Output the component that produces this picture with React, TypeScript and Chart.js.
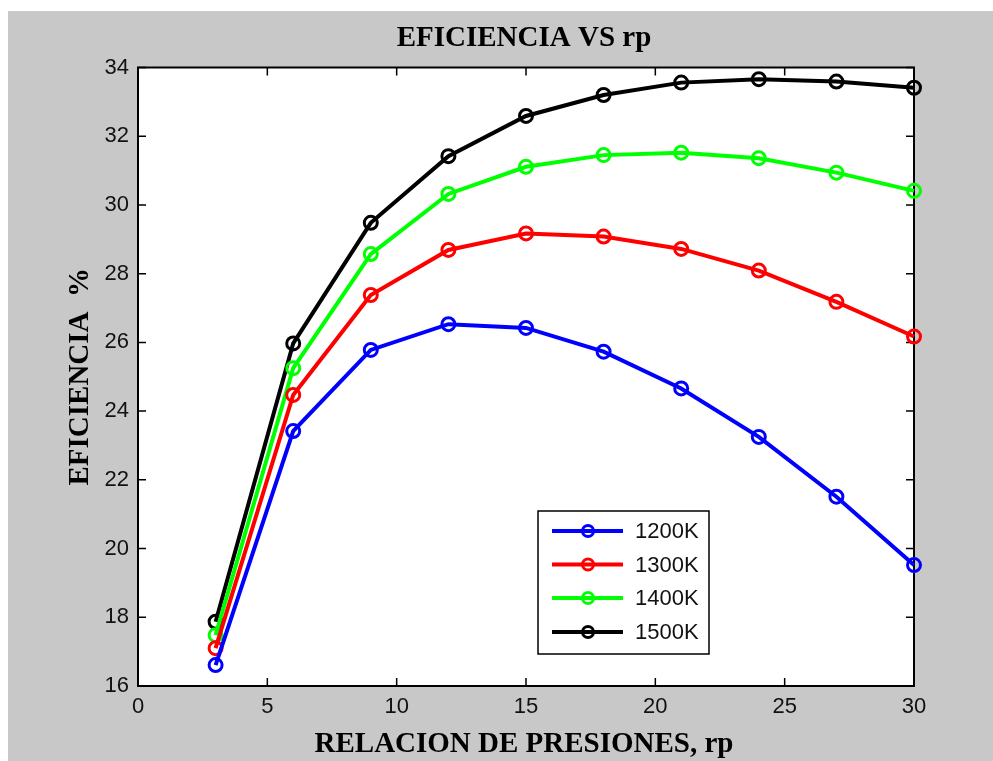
import React, { useEffect, useRef } from "react";
import { Chart, registerables } from "chart.js";

Chart.register(...registerables);

const rp = [3, 6, 9, 12, 15, 18, 21, 24, 27, 30];
const eff1200 = [16.61, 23.42, 25.78, 26.53, 26.42, 25.73, 24.66, 23.25, 21.51, 19.52];
const eff1300 = [17.1, 24.47, 27.38, 28.69, 29.17, 29.08, 28.72, 28.09, 27.18, 26.17];
const eff1400 = [17.48, 25.25, 28.57, 30.32, 31.11, 31.45, 31.52, 31.36, 30.94, 30.41];
const eff1500 = [17.87, 25.97, 29.48, 31.42, 32.59, 33.2, 33.56, 33.66, 33.59, 33.41];
const seriesLabels = ["1200K", "1300K", "1400K", "1500K"];
const seriesColors = ["#0000ff", "#ff0000", "#00ff00", "#000000"];
const xTicks = [0, 5, 10, 15, 20, 25, 30];
const yTicks = [16, 18, 20, 22, 24, 26, 28, 30, 32, 34];
const chartTitle = "EFICIENCIA VS rp";
const xTitle = "RELACION DE PRESIONES, rp";
const yTitle = "EFICIENCIA  %";

const W = 993;
const H = 761;
const TICK_FONT = "22px 'Liberation Sans', Arial, sans-serif";
const TITLE_FONT = "bold 29px 'Liberation Serif', 'Times New Roman', serif";

const framePlugin = {
  id: "matlabFrame",
  beforeDraw(chart: any) {
    const { ctx, chartArea } = chart;
    ctx.save();
    ctx.fillStyle = "#ffffff";
    ctx.fillRect(0, 0, W, H);
    ctx.fillStyle = "#c8c8c8";
    ctx.fillRect(8, 11, W - 8, H - 11);
    ctx.fillStyle = "#ffffff";
    ctx.fillRect(chartArea.left, chartArea.top, chartArea.right - chartArea.left, chartArea.bottom - chartArea.top);
    ctx.restore();
  },
  beforeDatasetsDraw(chart: any) {
    const { ctx, chartArea, scales } = chart;
    const { left, right, top, bottom } = chartArea;
    ctx.save();
    ctx.strokeStyle = "#000000";
    ctx.lineWidth = 1.5;
    const tl = 8;
    ctx.beginPath();
    xTicks.forEach((t) => {
      const px = scales.x.getPixelForValue(t);
      ctx.moveTo(px, bottom);
      ctx.lineTo(px, bottom - tl);
      ctx.moveTo(px, top);
      ctx.lineTo(px, top + tl);
    });
    yTicks.forEach((t) => {
      const py = scales.y.getPixelForValue(t);
      ctx.moveTo(left, py);
      ctx.lineTo(left + tl, py);
      ctx.moveTo(right, py);
      ctx.lineTo(right - tl, py);
    });
    ctx.stroke();
    ctx.lineWidth = 2;
    ctx.strokeRect(left, top, right - left, bottom - top);
    ctx.restore();
  },
  afterDraw(chart: any) {
    const { ctx, chartArea } = chart;
    const cx = (chartArea.left + chartArea.right) / 2;
    const cy = (chartArea.top + chartArea.bottom) / 2;
    ctx.save();
    ctx.fillStyle = "#000000";
    ctx.font = TITLE_FONT;
    ctx.textAlign = "center";
    ctx.textBaseline = "alphabetic";
    ctx.fillText(chartTitle, cx - 2, 46);
    ctx.fillText(xTitle, cx - 2, 752);
    ctx.save();
    ctx.translate(88, cy);
    ctx.rotate(-Math.PI / 2);
    ctx.fillText(yTitle, 0, 0);
    ctx.restore();

    // legend
    const bx = 538, by = 511, bw = 171, bh = 143;
    ctx.fillStyle = "#ffffff";
    ctx.fillRect(bx, by, bw, bh);
    ctx.strokeStyle = "#000000";
    ctx.lineWidth = 1.5;
    ctx.strokeRect(bx, by, bw, bh);
    const rowsY = [531, 564.5, 598, 632];
    chart.data.datasets.forEach((ds: any, i: number) => {
      const y = rowsY[i];
      ctx.strokeStyle = ds.borderColor;
      ctx.lineWidth = 4;
      ctx.beginPath();
      ctx.moveTo(552, y);
      ctx.lineTo(623, y);
      ctx.stroke();
      ctx.lineWidth = 3;
      ctx.beginPath();
      ctx.arc(588, y, 5.5, 0, Math.PI * 2);
      ctx.stroke();
      ctx.fillStyle = "#111111";
      ctx.font = TICK_FONT;
      ctx.textAlign = "left";
      ctx.textBaseline = "middle";
      ctx.fillText(ds.label, 635, y + 1);
    });
    ctx.restore();
  },
};

export default function App() {
  const canvasRef = useRef<HTMLCanvasElement | null>(null);

  useEffect(() => {
    if (!canvasRef.current) return;
    const allSeries = [eff1200, eff1300, eff1400, eff1500];
    const chart = new Chart(canvasRef.current, {
      type: "line",
      data: {
        datasets: allSeries.map((vals, i) => ({
          label: seriesLabels[i],
          data: rp.map((x, j) => ({ x, y: vals[j] })),
          borderColor: seriesColors[i],
          backgroundColor: "transparent",
          borderWidth: 4,
          pointRadius: 6.5,
          pointBorderWidth: 3,
          pointBorderColor: seriesColors[i],
          pointBackgroundColor: "rgba(0,0,0,0)",
          tension: 0,
          clip: false as any,
        })),
      },
      options: {
        responsive: false,
        animation: false,
        events: [],
        layout: { padding: { top: 67.5, right: 79, left: 0, bottom: 0 } },
        plugins: {
          legend: { display: false },
          title: { display: false },
          tooltip: { enabled: false },
        },
        scales: {
          x: {
            type: "linear",
            min: 0,
            max: 30,
            afterFit: (s: any) => {
              s.height = H - 686;
            },
            afterBuildTicks: (s: any) => {
              s.ticks = xTicks.map((v) => ({ value: v }));
            },
            grid: { display: false, drawTicks: false },
            border: { display: false },
            ticks: {
              padding: 8,
              color: "#111111",
              font: { family: "'Liberation Sans', Arial, sans-serif", size: 22 },
              maxRotation: 0,
            },
          },
          y: {
            type: "linear",
            min: 16,
            max: 34,
            afterFit: (s: any) => {
              s.width = 138;
            },
            afterBuildTicks: (s: any) => {
              s.ticks = yTicks.map((v) => ({ value: v }));
            },
            grid: { display: false, drawTicks: false },
            border: { display: false },
            ticks: {
              padding: 9,
              color: "#111111",
              font: { family: "'Liberation Sans', Arial, sans-serif", size: 22 },
            },
          },
        },
      },
      plugins: [framePlugin],
    });
    return () => chart.destroy();
  }, []);

  return (
    <div style={{ position: "absolute", left: 0, top: 0, width: W, height: H }}>
      <canvas ref={canvasRef} width={W} height={H} style={{ width: W, height: H, display: "block" }} />
    </div>
  );
}
